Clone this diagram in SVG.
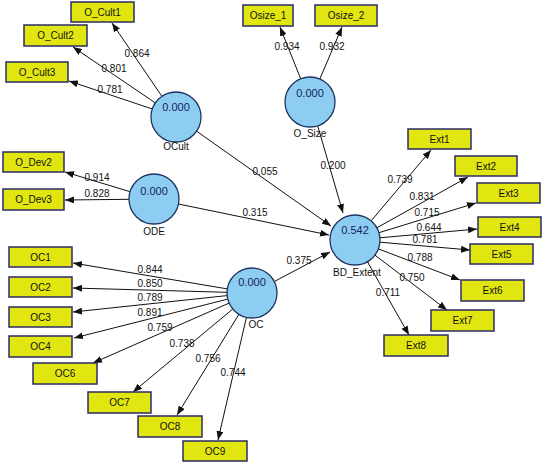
<svg xmlns="http://www.w3.org/2000/svg" width="543" height="463" viewBox="0 0 543 463">
<defs>
<marker id="ah" markerWidth="9" markerHeight="7" refX="9" refY="3.5" orient="auto" markerUnits="userSpaceOnUse">
<path d="M0,0 L9,3.5 L0,7 z" fill="#111"/>
</marker>
<style>
.box{fill:#e2e610;stroke:#2b2b66;stroke-width:1.5}
.bt{font-family:"Liberation Sans",Arial,sans-serif;font-size:10px;fill:#111;text-anchor:middle}
.lv{fill:#8ecdf2;stroke:#1d3560;stroke-width:1.3}
.val{font-family:"Liberation Sans",Arial,sans-serif;font-size:11px;fill:#14225e;text-anchor:middle}
.nm{font-family:"Liberation Sans",Arial,sans-serif;font-size:10px;fill:#111;text-anchor:middle}
.e{stroke:#111;stroke-width:1;fill:none;marker-end:url(#ah)}
.lb{font-family:"Liberation Sans",Arial,sans-serif;font-size:10px;fill:#111;text-anchor:middle}
</style>
</defs>
<rect width="543" height="463" fill="#fff"/>
<g id="connectors">
<line class="e" x1="161.9" y1="96.3" x2="112" y2="23"/>
<line class="e" x1="155.3" y1="102.9" x2="73" y2="47"/>
<line class="e" x1="152.3" y1="109" x2="69" y2="81"/>
<line class="e" x1="300.7" y1="78.8" x2="280" y2="27"/>
<line class="e" x1="319.8" y1="79" x2="342" y2="27"/>
<line class="e" x1="130.1" y1="191.7" x2="65" y2="172"/>
<line class="e" x1="129" y1="199.3" x2="65" y2="200"/>
<line class="e" x1="196.6" y1="131.2" x2="331" y2="226"/>
<line class="e" x1="317.7" y1="125.8" x2="343" y2="213"/>
<line class="e" x1="178.5" y1="204" x2="329" y2="235"/>
<line class="e" x1="274.2" y1="281.6" x2="330" y2="252"/>
<line class="e" x1="227.3" y1="288.9" x2="73" y2="263"/>
<line class="e" x1="227" y1="292.3" x2="73" y2="288"/>
<line class="e" x1="227.1" y1="295.6" x2="73" y2="312"/>
<line class="e" x1="227.8" y1="299.1" x2="74" y2="338"/>
<line class="e" x1="229.1" y1="303.1" x2="93" y2="363"/>
<line class="e" x1="232.8" y1="309" x2="133" y2="392"/>
<line class="e" x1="238.9" y1="314.3" x2="177" y2="415"/>
<line class="e" x1="246.4" y1="317.4" x2="218" y2="440"/>
<line class="e" x1="371.1" y1="220.9" x2="431" y2="150"/>
<line class="e" x1="376.8" y1="227.8" x2="468" y2="177"/>
<line class="e" x1="378.9" y1="232.7" x2="476" y2="203"/>
<line class="e" x1="379.9" y1="237.8" x2="477" y2="229"/>
<line class="e" x1="379.9" y1="242.2" x2="470" y2="250"/>
<line class="e" x1="378.4" y1="248.9" x2="460" y2="280"/>
<line class="e" x1="374.9" y1="255.1" x2="447" y2="310"/>
<line class="e" x1="367.4" y1="261.7" x2="409" y2="335"/>
<text class="lb" x="137" y="57">0.864</text>
<text class="lb" x="114" y="72">0.801</text>
<text class="lb" x="110" y="93">0.781</text>
<text class="lb" x="287" y="50">0.934</text>
<text class="lb" x="332" y="50">0.932</text>
<text class="lb" x="333" y="169">0.200</text>
<text class="lb" x="265" y="175">0.055</text>
<text class="lb" x="97" y="181">0.914</text>
<text class="lb" x="97" y="197">0.828</text>
<text class="lb" x="255" y="216">0.315</text>
<text class="lb" x="299" y="264">0.375</text>
<text class="lb" x="150" y="273">0.844</text>
<text class="lb" x="150" y="287">0.850</text>
<text class="lb" x="150" y="301">0.789</text>
<text class="lb" x="150" y="316">0.891</text>
<text class="lb" x="160" y="331">0.759</text>
<text class="lb" x="182" y="347">0.738</text>
<text class="lb" x="208" y="362">0.756</text>
<text class="lb" x="233" y="376">0.744</text>
<text class="lb" x="400" y="183">0.739</text>
<text class="lb" x="422" y="200">0.831</text>
<text class="lb" x="427" y="216">0.715</text>
<text class="lb" x="429" y="231">0.644</text>
<text class="lb" x="425" y="243">0.781</text>
<text class="lb" x="420" y="261">0.788</text>
<text class="lb" x="412" y="281">0.750</text>
<text class="lb" x="388" y="296">0.711</text>
</g>
<g id="OCult"><circle class="lv" cx="176" cy="117" r="25"/><text class="val" x="176" y="111">0.000</text><text class="nm" x="176" y="150">OCult</text></g>
<g id="O_Size"><circle class="lv" cx="310" cy="102" r="25"/><text class="val" x="310" y="97">0.000</text><text class="nm" x="310" y="137">O_Size</text></g>
<g id="ODE"><circle class="lv" cx="154" cy="199" r="25"/><text class="val" x="154" y="195">0.000</text><text class="nm" x="154" y="235">ODE</text></g>
<g id="BD_Extent"><circle class="lv" cx="355" cy="240" r="25"/><text class="val" x="355" y="234">0.542</text><text class="nm" x="357" y="276">BD_Extent</text></g>
<g id="OC"><circle class="lv" cx="252" cy="293" r="25"/><text class="val" x="252" y="286">0.000</text><text class="nm" x="256" y="328">OC</text></g>
<g id="O_Cult1"><rect class="box" x="71" y="2" width="63" height="20"/><text class="bt" x="102.5" y="15.5">O_Cult1</text></g>
<g id="O_Cult2"><rect class="box" x="24" y="25" width="63" height="21"/><text class="bt" x="55.5" y="39">O_Cult2</text></g>
<g id="O_Cult3"><rect class="box" x="6" y="62" width="62" height="20"/><text class="bt" x="37" y="75.5">O_Cult3</text></g>
<g id="Osize_1"><rect class="box" x="243" y="5" width="50" height="21"/><text class="bt" x="268" y="19">Osize_1</text></g>
<g id="Osize_2"><rect class="box" x="315" y="5" width="62" height="21"/><text class="bt" x="346" y="19">Osize_2</text></g>
<g id="O_Dev2"><rect class="box" x="3" y="152" width="61" height="20"/><text class="bt" x="33.5" y="165.5">O_Dev2</text></g>
<g id="O_Dev3"><rect class="box" x="3" y="189" width="61" height="21"/><text class="bt" x="33.5" y="203">O_Dev3</text></g>
<g id="OC1"><rect class="box" x="9" y="247" width="63" height="20"/><text class="bt" x="40.5" y="260.5">OC1</text></g>
<g id="OC2"><rect class="box" x="9" y="277" width="63" height="20"/><text class="bt" x="40.5" y="290.5">OC2</text></g>
<g id="OC3"><rect class="box" x="9" y="307" width="63" height="20"/><text class="bt" x="40.5" y="320.5">OC3</text></g>
<g id="OC4"><rect class="box" x="9" y="336" width="63" height="21"/><text class="bt" x="40.5" y="350">OC4</text></g>
<g id="OC6"><rect class="box" x="33" y="363" width="64" height="21"/><text class="bt" x="65" y="377">OC6</text></g>
<g id="OC7"><rect class="box" x="88" y="392" width="63" height="21"/><text class="bt" x="119.5" y="406">OC7</text></g>
<g id="OC8"><rect class="box" x="138" y="416" width="64" height="21"/><text class="bt" x="170" y="430">OC8</text></g>
<g id="OC9"><rect class="box" x="183" y="441" width="64" height="20"/><text class="bt" x="215" y="454.5">OC9</text></g>
<g id="Ext1"><rect class="box" x="408" y="129" width="63" height="20"/><text class="bt" x="439.5" y="142.5">Ext1</text></g>
<g id="Ext2"><rect class="box" x="455" y="156" width="62" height="20"/><text class="bt" x="486" y="169.5">Ext2</text></g>
<g id="Ext3"><rect class="box" x="477" y="183" width="63" height="20"/><text class="bt" x="508.5" y="196.5">Ext3</text></g>
<g id="Ext4"><rect class="box" x="478" y="217" width="63" height="20"/><text class="bt" x="509.5" y="230.5">Ext4</text></g>
<g id="Ext5"><rect class="box" x="470" y="244" width="63" height="20"/><text class="bt" x="501.5" y="257.5">Ext5</text></g>
<g id="Ext6"><rect class="box" x="461" y="280" width="63" height="21"/><text class="bt" x="492.5" y="294">Ext6</text></g>
<g id="Ext7"><rect class="box" x="431" y="310" width="63" height="21"/><text class="bt" x="462.5" y="324">Ext7</text></g>
<g id="Ext8"><rect class="box" x="384" y="335" width="64" height="21"/><text class="bt" x="416" y="349">Ext8</text></g>
</svg>
